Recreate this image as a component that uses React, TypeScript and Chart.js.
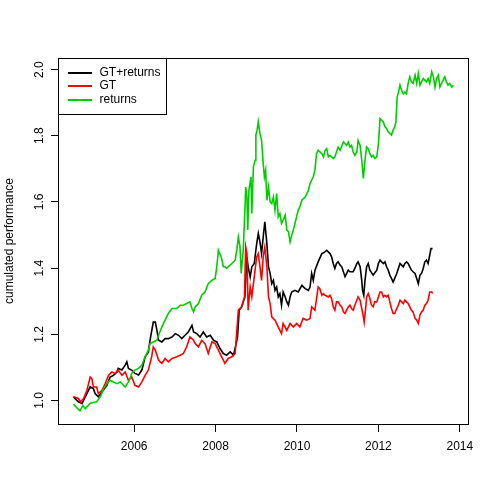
import React, { useEffect, useRef } from "react";
import { Chart, registerables } from "chart.js";

Chart.register(...registerables);

const FONT = "'Liberation Sans', Arial, Helvetica, sans-serif";

const SERIES_LABELS = ["GT+returns", "GT", "returns"];
const SERIES_COLORS = ["#000000", "#FF0000", "#00CD00"];
const X_TICKS = [2006, 2008, 2010, 2012, 2014];
const Y_TICKS = [1.0, 1.2, 1.4, 1.6, 1.8, 2.0];
const Y_TITLE = "cumulated performance";
const X_RANGE = [2004.13, 2014.2];
const Y_RANGE = [0.929, 2.035];

// [year, cumulated performance]
const GT_RETURNS: [number, number][] = [
  [2004.51, 1.011], [2004.63, 0.996], [2004.72, 0.991], [2004.80, 1.011], [2004.92, 1.041],
  [2005.00, 1.036], [2005.04, 1.021], [2005.12, 1.011], [2005.21, 1.026], [2005.33, 1.046],
  [2005.41, 1.071], [2005.49, 1.076], [2005.58, 1.086], [2005.61, 1.097], [2005.70, 1.092],
  [2005.78, 1.107], [2005.82, 1.117], [2005.86, 1.097], [2005.94, 1.092], [2006.02, 1.082],
  [2006.11, 1.077], [2006.19, 1.092], [2006.27, 1.132], [2006.35, 1.147], [2006.39, 1.182],
  [2006.47, 1.237], [2006.52, 1.237], [2006.56, 1.212], [2006.60, 1.182], [2006.68, 1.177],
  [2006.76, 1.187], [2006.84, 1.187], [2006.93, 1.192], [2007.01, 1.202], [2007.09, 1.197],
  [2007.17, 1.187], [2007.25, 1.197], [2007.33, 1.207], [2007.42, 1.227], [2007.46, 1.207],
  [2007.54, 1.202], [2007.62, 1.192], [2007.70, 1.207], [2007.78, 1.192], [2007.87, 1.197],
  [2007.95, 1.182], [2008.03, 1.177], [2008.11, 1.157], [2008.19, 1.142], [2008.27, 1.137],
  [2008.36, 1.147], [2008.44, 1.137], [2008.48, 1.157], [2008.54, 1.192], [2008.58, 1.273],
  [2008.64, 1.283], [2008.68, 1.298], [2008.72, 1.313], [2008.77, 1.434], [2008.80, 1.404],
  [2008.85, 1.373], [2008.89, 1.404], [2008.95, 1.414], [2009.01, 1.474], [2009.05, 1.505],
  [2009.09, 1.479], [2009.13, 1.444], [2009.17, 1.494], [2009.21, 1.540], [2009.26, 1.474],
  [2009.30, 1.404], [2009.34, 1.384], [2009.38, 1.353], [2009.42, 1.363], [2009.46, 1.333],
  [2009.50, 1.343], [2009.54, 1.313], [2009.58, 1.323], [2009.62, 1.288], [2009.66, 1.328],
  [2009.71, 1.313], [2009.75, 1.298], [2009.79, 1.288], [2009.83, 1.313], [2009.87, 1.328],
  [2009.95, 1.333], [2010.03, 1.328], [2010.12, 1.348], [2010.20, 1.338], [2010.28, 1.333],
  [2010.32, 1.343], [2010.36, 1.384], [2010.40, 1.363], [2010.44, 1.393], [2010.52, 1.419],
  [2010.61, 1.444], [2010.69, 1.449], [2010.73, 1.454], [2010.81, 1.444], [2010.85, 1.434],
  [2010.89, 1.414], [2010.93, 1.399], [2010.97, 1.414], [2011.01, 1.419], [2011.06, 1.409],
  [2011.10, 1.404], [2011.14, 1.389], [2011.18, 1.374], [2011.22, 1.384], [2011.26, 1.394],
  [2011.30, 1.389], [2011.38, 1.389], [2011.42, 1.399], [2011.47, 1.414], [2011.50, 1.419],
  [2011.55, 1.404], [2011.59, 1.363], [2011.61, 1.333], [2011.64, 1.318], [2011.67, 1.363],
  [2011.71, 1.404], [2011.75, 1.414], [2011.79, 1.394], [2011.87, 1.379], [2011.96, 1.394],
  [2012.00, 1.414], [2012.04, 1.424], [2012.12, 1.414], [2012.16, 1.419], [2012.20, 1.404],
  [2012.24, 1.394], [2012.28, 1.379], [2012.32, 1.369], [2012.36, 1.358], [2012.40, 1.369],
  [2012.45, 1.384], [2012.49, 1.399], [2012.53, 1.414], [2012.57, 1.409], [2012.61, 1.404],
  [2012.65, 1.414], [2012.69, 1.419], [2012.73, 1.414], [2012.77, 1.404], [2012.81, 1.394],
  [2012.85, 1.389], [2012.90, 1.384], [2012.94, 1.369], [2012.98, 1.353], [2013.02, 1.379],
  [2013.06, 1.384], [2013.10, 1.399], [2013.14, 1.419], [2013.18, 1.424], [2013.22, 1.414],
  [2013.26, 1.439], [2013.29, 1.459], [2013.33, 1.459],
];

const GT: [number, number][] = [
  [2004.51, 1.011], [2004.63, 1.006], [2004.68, 0.996], [2004.76, 1.006], [2004.84, 1.031],
  [2004.92, 1.071], [2004.96, 1.066], [2005.00, 1.041], [2005.08, 1.041], [2005.12, 1.021],
  [2005.21, 1.031], [2005.29, 1.051], [2005.37, 1.076], [2005.45, 1.086], [2005.53, 1.082],
  [2005.61, 1.092], [2005.70, 1.076], [2005.78, 1.086], [2005.86, 1.061], [2005.94, 1.071],
  [2006.02, 1.046], [2006.11, 1.041], [2006.19, 1.056], [2006.27, 1.076], [2006.35, 1.092],
  [2006.43, 1.132], [2006.47, 1.162], [2006.52, 1.152], [2006.60, 1.122], [2006.68, 1.112],
  [2006.76, 1.127], [2006.84, 1.117], [2006.93, 1.127], [2007.05, 1.132], [2007.13, 1.137],
  [2007.21, 1.142], [2007.29, 1.162], [2007.37, 1.192], [2007.46, 1.182], [2007.50, 1.172],
  [2007.58, 1.162], [2007.66, 1.182], [2007.74, 1.172], [2007.82, 1.142], [2007.91, 1.177],
  [2007.99, 1.172], [2008.07, 1.152], [2008.15, 1.132], [2008.23, 1.112], [2008.31, 1.127],
  [2008.40, 1.132], [2008.48, 1.142], [2008.56, 1.273], [2008.64, 1.283], [2008.71, 1.313],
  [2008.74, 1.464], [2008.77, 1.444], [2008.80, 1.273], [2008.85, 1.343], [2008.89, 1.313],
  [2008.93, 1.353], [2008.97, 1.394], [2009.01, 1.434], [2009.05, 1.444], [2009.09, 1.404],
  [2009.13, 1.363], [2009.17, 1.434], [2009.21, 1.464], [2009.26, 1.404], [2009.30, 1.313],
  [2009.34, 1.293], [2009.38, 1.253], [2009.46, 1.243], [2009.54, 1.222], [2009.62, 1.202],
  [2009.66, 1.233], [2009.75, 1.212], [2009.83, 1.233], [2009.91, 1.222], [2009.99, 1.233],
  [2010.07, 1.222], [2010.15, 1.248], [2010.24, 1.243], [2010.32, 1.248], [2010.36, 1.283],
  [2010.44, 1.273], [2010.52, 1.343], [2010.56, 1.338], [2010.61, 1.318], [2010.65, 1.323],
  [2010.69, 1.318], [2010.77, 1.313], [2010.81, 1.318], [2010.85, 1.308], [2010.89, 1.283],
  [2010.93, 1.273], [2010.97, 1.298], [2011.01, 1.298], [2011.06, 1.288], [2011.10, 1.283],
  [2011.14, 1.268], [2011.18, 1.263], [2011.22, 1.273], [2011.26, 1.283], [2011.30, 1.288],
  [2011.34, 1.278], [2011.38, 1.273], [2011.42, 1.288], [2011.47, 1.303], [2011.50, 1.313],
  [2011.55, 1.303], [2011.59, 1.278], [2011.63, 1.253], [2011.65, 1.237], [2011.69, 1.283],
  [2011.71, 1.313], [2011.75, 1.323], [2011.79, 1.308], [2011.83, 1.288], [2011.87, 1.283],
  [2011.91, 1.298], [2011.96, 1.298], [2012.00, 1.313], [2012.04, 1.328], [2012.08, 1.328],
  [2012.12, 1.313], [2012.16, 1.318], [2012.20, 1.313], [2012.24, 1.318], [2012.28, 1.298],
  [2012.32, 1.278], [2012.36, 1.263], [2012.40, 1.263], [2012.45, 1.278], [2012.49, 1.288],
  [2012.53, 1.303], [2012.57, 1.298], [2012.61, 1.293], [2012.65, 1.303], [2012.69, 1.298],
  [2012.73, 1.293], [2012.77, 1.283], [2012.81, 1.273], [2012.85, 1.268], [2012.90, 1.248],
  [2012.94, 1.243], [2012.98, 1.233], [2013.02, 1.258], [2013.06, 1.268], [2013.10, 1.273],
  [2013.14, 1.288], [2013.18, 1.293], [2013.22, 1.303], [2013.26, 1.328], [2013.31, 1.328],
  [2013.33, 1.323],
];

const RETURNS: [number, number][] = [
  [2004.51, 0.989], [2004.59, 0.978], [2004.67, 0.969], [2004.74, 0.985], [2004.80, 0.975],
  [2004.92, 0.992], [2005.08, 0.996], [2005.17, 1.011], [2005.25, 1.036], [2005.33, 1.051],
  [2005.41, 1.061], [2005.49, 1.056], [2005.58, 1.051], [2005.66, 1.056], [2005.78, 1.041],
  [2005.86, 1.056], [2005.90, 1.066], [2005.94, 1.082], [2006.02, 1.092], [2006.11, 1.097],
  [2006.19, 1.107], [2006.27, 1.132], [2006.35, 1.152], [2006.39, 1.172], [2006.47, 1.177],
  [2006.56, 1.182], [2006.60, 1.197], [2006.68, 1.222], [2006.76, 1.243], [2006.84, 1.263],
  [2006.93, 1.278], [2007.05, 1.278], [2007.13, 1.288], [2007.21, 1.288], [2007.29, 1.293],
  [2007.37, 1.298], [2007.42, 1.278], [2007.46, 1.268], [2007.50, 1.283], [2007.58, 1.293],
  [2007.66, 1.318], [2007.74, 1.328], [2007.82, 1.353], [2007.91, 1.363], [2007.99, 1.369],
  [2008.03, 1.404], [2008.07, 1.454], [2008.15, 1.429], [2008.19, 1.404], [2008.23, 1.404],
  [2008.27, 1.399], [2008.31, 1.404], [2008.40, 1.414], [2008.48, 1.424], [2008.52, 1.454],
  [2008.56, 1.494], [2008.60, 1.464], [2008.63, 1.384], [2008.68, 1.454], [2008.72, 1.575],
  [2008.74, 1.645], [2008.77, 1.615], [2008.79, 1.515], [2008.82, 1.636], [2008.87, 1.676],
  [2008.89, 1.565], [2008.93, 1.706], [2008.97, 1.726], [2008.99, 1.802], [2009.02, 1.817],
  [2009.05, 1.842], [2009.09, 1.807], [2009.13, 1.787], [2009.17, 1.716], [2009.20, 1.676],
  [2009.23, 1.696], [2009.26, 1.605], [2009.30, 1.645], [2009.34, 1.600], [2009.38, 1.595],
  [2009.42, 1.615], [2009.46, 1.575], [2009.50, 1.625], [2009.54, 1.555], [2009.58, 1.565],
  [2009.62, 1.535], [2009.66, 1.545], [2009.71, 1.560], [2009.75, 1.515], [2009.79, 1.510],
  [2009.83, 1.479], [2009.87, 1.499], [2009.91, 1.515], [2009.95, 1.535], [2009.99, 1.555],
  [2010.03, 1.575], [2010.07, 1.585], [2010.12, 1.605], [2010.20, 1.615], [2010.28, 1.635],
  [2010.32, 1.656], [2010.40, 1.676], [2010.44, 1.696], [2010.48, 1.746], [2010.52, 1.756],
  [2010.61, 1.746], [2010.65, 1.736], [2010.69, 1.756], [2010.73, 1.761], [2010.77, 1.736],
  [2010.81, 1.741], [2010.89, 1.731], [2010.93, 1.736], [2011.01, 1.766], [2011.06, 1.756],
  [2011.14, 1.781], [2011.22, 1.771], [2011.26, 1.781], [2011.30, 1.766], [2011.34, 1.771],
  [2011.38, 1.751], [2011.42, 1.741], [2011.47, 1.751], [2011.50, 1.786], [2011.55, 1.771],
  [2011.59, 1.726], [2011.63, 1.671], [2011.67, 1.726], [2011.71, 1.766], [2011.75, 1.761],
  [2011.79, 1.746], [2011.83, 1.736], [2011.87, 1.741], [2011.91, 1.731], [2011.96, 1.736],
  [2012.00, 1.776], [2012.04, 1.852], [2012.08, 1.847], [2012.12, 1.842], [2012.16, 1.827],
  [2012.20, 1.822], [2012.24, 1.812], [2012.28, 1.807], [2012.32, 1.802], [2012.36, 1.817],
  [2012.40, 1.827], [2012.43, 1.842], [2012.46, 1.917], [2012.49, 1.930], [2012.53, 1.953],
  [2012.57, 1.937], [2012.61, 1.927], [2012.65, 1.932], [2012.69, 1.927], [2012.73, 1.958],
  [2012.77, 1.978], [2012.81, 1.963], [2012.85, 1.958], [2012.90, 1.983], [2012.94, 1.958],
  [2012.98, 1.988], [2013.02, 1.953], [2013.06, 1.963], [2013.10, 1.973], [2013.14, 1.968],
  [2013.18, 1.963], [2013.22, 1.973], [2013.26, 1.958], [2013.31, 1.993], [2013.35, 1.978],
  [2013.39, 1.947], [2013.43, 1.973], [2013.47, 1.983], [2013.51, 1.947], [2013.55, 1.958],
  [2013.59, 1.968], [2013.63, 1.978], [2013.67, 1.963], [2013.71, 1.953], [2013.75, 1.958],
  [2013.80, 1.947], [2013.84, 1.953],
];

const SERIES = [GT_RETURNS, GT, RETURNS];

// Draws the R-style full box around the plot region and the boxed legend inside it.
const boxLegendPlugin = {
  id: "rBoxLegend",
  afterDraw(chart: any) {
    const { ctx, chartArea: a } = chart;
    ctx.save();
    ctx.strokeStyle = "#000";
    ctx.lineWidth = 1;
    ctx.strokeRect(a.left + 0.5, a.top + 0.5, a.right - a.left, a.bottom - a.top);

    const ds = chart.data.datasets;
    ctx.font = `12px ${FONT}`;
    const maxW = Math.max(...ds.map((d: any) => ctx.measureText(d.label).width));
    const w = Math.round(41.5 + maxW + 5.5);
    const h = 56;
    ctx.fillStyle = "#fff";
    ctx.fillRect(a.left + 0.5, a.top + 0.5, w, h);
    ctx.strokeStyle = "#000";
    ctx.strokeRect(a.left + 0.5, a.top + 0.5, w, h);
    ds.forEach((d: any, i: number) => {
      const y = Math.floor(a.top + 15 + i * 13.5);
      ctx.strokeStyle = d.borderColor;
      ctx.lineWidth = 2;
      ctx.lineCap = "butt";
      ctx.beginPath();
      ctx.moveTo(a.left + 10, y);
      ctx.lineTo(a.left + 34, y);
      ctx.stroke();
      ctx.fillStyle = "#000";
      ctx.textBaseline = "middle";
      ctx.textAlign = "left";
      ctx.fillText(d.label, a.left + 41.5, y);
    });
    ctx.restore();
  },
};

export default function App() {
  const canvasRef = useRef<HTMLCanvasElement | null>(null);

  useEffect(() => {
    if (!canvasRef.current) return;
    const chart = new Chart(canvasRef.current, {
      type: "line",
      data: {
        datasets: SERIES.map((s, i) => ({
          label: SERIES_LABELS[i],
          data: s.map(([x, y]) => ({ x, y })),
          borderColor: SERIES_COLORS[i],
          backgroundColor: SERIES_COLORS[i],
          borderWidth: 1.6,
          pointRadius: 0,
          tension: 0,
          fill: false,
          order: SERIES.length - i,
        })),
      },
      options: {
        animation: false,
        responsive: false,
        devicePixelRatio: 1,
        layout: { padding: { top: 58, right: 30, left: 0, bottom: 0 } },
        plugins: { legend: { display: false }, tooltip: { enabled: false } },
        scales: {
          x: {
            type: "linear",
            position: "bottom",
            min: X_RANGE[0],
            max: X_RANGE[1],
            afterBuildTicks: (s: any) => {
              s.ticks = X_TICKS.map((v) => ({ value: v }));
            },
            afterFit: (s: any) => {
              s.height = 74;
            },
            grid: { drawOnChartArea: false, drawTicks: true, tickLength: 8, color: "#000", lineWidth: 1 },
            border: { display: false },
            ticks: {
              color: "#000",
              font: { size: 12, family: FONT },
              padding: 7,
              maxRotation: 0,
              minRotation: 0,
              autoSkip: false,
              callback: (v: any) => String(v),
            },
          },
          y: {
            type: "linear",
            min: Y_RANGE[0],
            max: Y_RANGE[1],
            afterBuildTicks: (s: any) => {
              s.ticks = Y_TICKS.map((v) => ({ value: v }));
            },
            afterFit: (s: any) => {
              s.width = 58;
            },
            grid: { drawOnChartArea: false, drawTicks: true, tickLength: 7, color: "#000", lineWidth: 1 },
            border: { display: false },
            ticks: {
              color: "#000",
              font: { size: 12, family: FONT },
              padding: 3,
              minRotation: 90,
              maxRotation: 90,
              crossAlign: "center",
              autoSkip: false,
              callback: (v: any) => Number(v).toFixed(1),
            },
            title: {
              display: true,
              text: Y_TITLE,
              color: "#000",
              font: { size: 12, family: FONT },
              padding: { top: 2, bottom: 0 },
            },
          },
        },
      },
      plugins: [boxLegendPlugin],
    } as any);
    return () => chart.destroy();
  }, []);

  return (
    <div style={{ position: "absolute", left: 0, top: 0, width: 498, height: 498, background: "#fff" }}>
      <canvas ref={canvasRef} width={498} height={498} style={{ display: "block" }} />
    </div>
  );
}
